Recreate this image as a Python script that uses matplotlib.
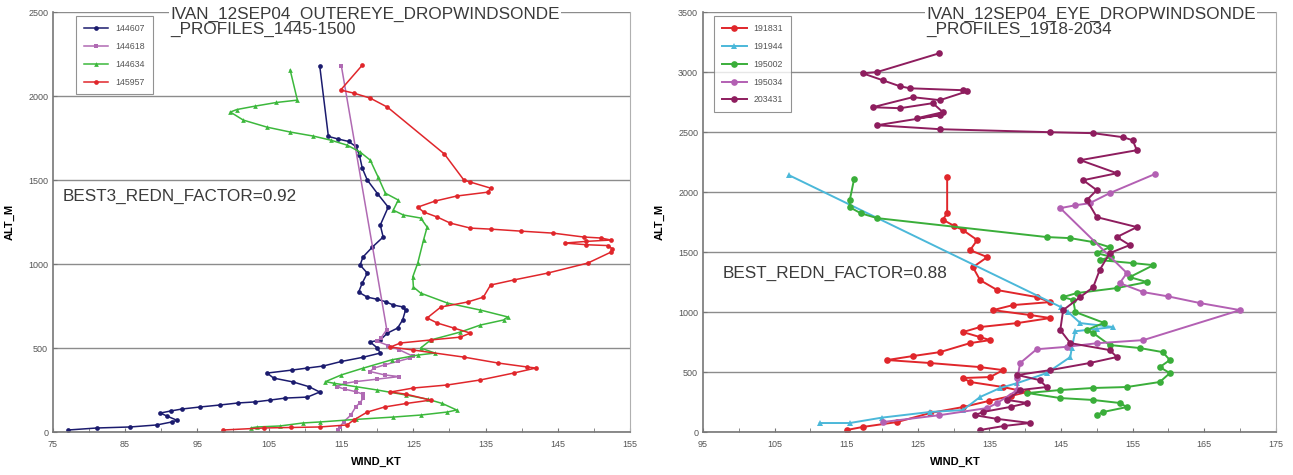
import matplotlib
matplotlib.use("Agg")
import matplotlib.pyplot as plt
from matplotlib.ticker import MultipleLocator

plt.rcParams["font.family"] = ["Liberation Sans", "DejaVu Sans"]

# ---------------------------------------------------------------------------
# Data: (wind kt, altitude m)
# ---------------------------------------------------------------------------
# left panel – outer eye, 1445-1500
S144607_WIND = [112.0, 113.2, 114.5, 116.0, 117.0, 117.5, 117.9, 118.6, 120.0, 121.5,
                120.4, 120.8, 119.3, 118.0, 117.6, 118.6, 117.9, 117.4, 118.6, 120.0,
                121.2, 122.2, 123.5, 123.9, 123.5, 122.8, 121.4, 120.4, 119.0, 120.0,
                120.4, 118.0, 115.0, 112.5, 110.3, 108.2, 104.7, 105.6, 108.3, 110.5,
                112.0, 110.3, 107.2, 105.1, 103.0, 100.7, 98.2, 95.4, 92.9, 91.3,
                89.9, 90.8, 92.2, 91.5, 89.4, 85.7, 81.1, 77.1]
S144607_ALT = [2180, 1760, 1745, 1730, 1700, 1650, 1571, 1500, 1420, 1339,
               1232, 1161, 1101, 1042, 994, 946, 887, 833, 803, 790,
               775, 756, 745, 726, 667, 619, 589, 548, 536, 500,
               470, 445, 420, 393, 381, 369, 351, 321, 298, 270,
               238, 208, 202, 190, 179, 173, 161, 149, 137, 125,
               113, 95, 70, 60, 42, 30, 24, 12]

S144618_WIND = [115.0, 121.3, 120.5, 120.0, 121.5, 123.0, 125.0, 124.5, 122.8, 121.0,
                119.5, 119.0, 121.0, 123.0, 120.0, 117.0, 115.5, 114.4, 115.5, 117.0,
                118.0, 118.0, 117.6, 117.0, 116.3, 115.3, 114.8, 114.6]
S144618_ALT = [2180, 610, 560, 540, 515, 490, 450, 440, 420, 400,
               380, 360, 340, 330, 315, 300, 290, 270, 255, 240,
               225, 200, 175, 150, 100, 60, 30, 12]

S144634_WIND = [107.9, 108.9, 106.0, 103.0, 100.5, 99.6, 101.4, 104.7, 107.9, 111.1,
                113.5, 115.8, 117.6, 119.0, 120.1, 121.1, 122.9, 122.2, 123.6, 126.0,
                126.9, 126.4, 125.6, 124.9, 125.0, 126.0, 129.7, 134.3, 138.1, 137.5,
                134.3, 131.5, 127.4, 126.0, 128.0, 125.6, 122.0, 118.0, 115.0, 112.8,
                114.0, 117.0, 120.0, 124.0, 127.0, 129.0, 131.0, 129.7, 126.0, 122.2,
                117.0, 112.1, 109.7, 106.5, 103.3, 102.5]
S144634_ALT = [2155, 1976, 1962, 1940, 1920, 1905, 1857, 1815, 1786, 1762,
               1738, 1708, 1667, 1619, 1518, 1422, 1381, 1321, 1292, 1274,
               1220, 1143, 1006, 923, 863, 827, 768, 726, 685, 667,
               637, 595, 548, 500, 470, 458, 430, 380, 340, 300,
               290, 270, 250, 220, 195, 170, 131, 119, 101, 89,
               75, 60, 54, 36, 30, 25]

S145957_WIND = [117.9, 114.9, 116.7, 119.0, 121.4, 129.3, 132.0, 132.9, 135.7, 135.3,
                131.0, 128.0, 125.6, 126.4, 128.3, 130.1, 132.9, 135.7, 139.9, 144.4,
                148.6, 151.0, 152.4, 149.0, 146.0, 149.0, 152.0, 152.6, 152.4, 149.2,
                143.6, 138.9, 135.7, 134.7, 132.5, 128.8, 126.9, 128.3, 130.6, 132.9,
                131.5, 127.4, 123.2, 121.8, 125.0, 132.0, 136.7, 140.8, 142.0, 138.9,
                134.3, 129.7, 125.0, 121.8, 124.0, 127.4, 124.0, 121.0, 118.6, 116.7,
                115.8, 112.0, 108.0, 104.2, 98.6]
S145957_ALT = [2184, 2036, 2018, 1988, 1934, 1655, 1500, 1488, 1452, 1428,
               1405, 1375, 1339, 1310, 1280, 1244, 1214, 1208, 1196, 1184,
               1161, 1155, 1143, 1135, 1125, 1115, 1110, 1090, 1071, 1006,
               946, 905, 875, 803, 774, 744, 679, 649, 619, 589,
               565, 548, 530, 506, 488, 446, 411, 387, 381, 351,
               310, 280, 262, 238, 225, 190, 170, 149, 119, 71,
               42, 30, 27, 24, 12]

# right panel – eye, 1918-2034
S191831_WIND = [129.1, 129.1, 128.5, 130.0, 131.3, 133.3, 132.3, 134.7, 132.7, 133.7,
                136.1, 141.6, 143.5, 138.3, 135.5, 140.7, 143.5, 138.9, 133.7, 131.3,
                133.7, 135.1, 132.3, 128.1, 124.3, 120.7, 126.7, 133.7, 136.9, 135.1,
                131.3, 132.3, 136.9, 140.2, 138.0, 135.0, 131.3, 126.7, 122.1, 117.3,
                115.1]
S191831_ALT = [2125, 1824, 1770, 1720, 1683, 1600, 1516, 1458, 1374, 1266,
               1183, 1125, 1083, 1058, 1016, 975, 950, 908, 875, 833,
               791, 766, 741, 666, 633, 600, 575, 541, 516, 458,
               450, 417, 375, 333, 300, 260, 208, 158, 83, 42,
               17]

S191944_WIND = [107.0, 145.0, 146.0, 147.7, 152.3, 150.0, 147.0, 146.5, 146.3, 143.0,
                138.9, 136.5, 133.7, 131.3, 126.7, 120.0, 115.5, 111.3]
S191944_ALT = [2141, 1041, 1000, 908, 875, 860, 840, 700, 625, 491,
               408, 367, 292, 183, 167, 120, 75, 75]

S195002_WIND = [116.1, 115.5, 115.5, 117.0, 119.3, 143.0, 146.3, 149.5, 151.8, 150.0,
                152.0, 150.4, 155.0, 157.9, 154.6, 157.0, 152.8, 147.2, 145.3, 146.7,
                147.0, 151.0, 148.6, 149.5, 151.8, 156.0, 159.2, 160.2, 158.8, 160.2,
                158.8, 154.2, 149.5, 144.9, 140.3, 144.9, 149.5, 153.2, 154.2, 150.9,
                150.0]
S195002_ALT = [2108, 1933, 1874, 1824, 1783, 1625, 1616, 1583, 1541, 1491,
               1460, 1433, 1408, 1391, 1291, 1250, 1200, 1158, 1125, 1100,
               1000, 910, 850, 825, 725, 700, 666, 600, 541, 491,
               417, 375, 367, 350, 325, 283, 267, 242, 208, 167,
               142]

S195034_WIND = [158.1, 151.8, 149.0, 147.0, 144.9, 154.2, 153.2, 156.5, 160.0, 164.4,
                170.0, 156.5, 150.0, 145.8, 141.6, 139.3, 138.9, 138.9, 136.1, 134.7,
                128.0, 120.1]
S195034_ALT = [2150, 1991, 1907, 1890, 1866, 1325, 1241, 1166, 1130, 1075,
               1016, 766, 740, 710, 690, 575, 450, 350, 242, 200,
               140, 83]

S203431_WIND = [128.0, 119.3, 117.3, 120.1, 122.5, 123.9, 131.3, 131.9, 128.1, 124.3,
                118.7, 122.5, 127.1, 128.5, 124.9, 128.1, 119.3, 128.1, 143.5, 149.5,
                153.7, 155.0, 155.6, 147.7, 152.8, 148.1, 150.0, 148.6, 150.0, 155.6,
                152.8, 154.6, 151.8, 150.4, 149.5, 147.7, 145.3, 144.9, 146.3, 151.8,
                152.8, 149.0, 143.5, 138.9, 142.0, 143.0, 139.3, 137.5, 140.3, 138.0,
                134.1, 133.0, 136.0, 140.7, 137.0, 133.7]
S203431_ALT = [3157, 3000, 2990, 2932, 2882, 2865, 2849, 2840, 2766, 2791,
               2707, 2699, 2741, 2666, 2616, 2641, 2557, 2524, 2499, 2491,
               2457, 2432, 2349, 2266, 2157, 2099, 2016, 1933, 1791, 1708,
               1625, 1558, 1491, 1350, 1208, 1125, 1016, 850, 741, 683,
               625, 575, 516, 475, 433, 375, 350, 267, 242, 210,
               167, 140, 110, 75, 50, 17]

LEFT_SERIES = [
    ("144607", S144607_WIND, S144607_ALT, "#1b1b6e", "o"),
    ("144618", S144618_WIND, S144618_ALT, "#b06ab3", "s"),
    ("144634", S144634_WIND, S144634_ALT, "#3cb83c", "^"),
    ("145957", S145957_WIND, S145957_ALT, "#e0262b", "o"),
]
RIGHT_SERIES = [
    ("191831", S191831_WIND, S191831_ALT, "#e0262b", "o"),
    ("191944", S191944_WIND, S191944_ALT, "#4bb8d9", "^"),
    ("195002", S195002_WIND, S195002_ALT, "#3aae3a", "o"),
    ("195034", S195034_WIND, S195034_ALT, "#b360b3", "o"),
    ("203431", S203431_WIND, S203431_ALT, "#8e1d5e", "o"),
]
LEFT_XTICKS = [75, 85, 95, 105, 115, 125, 135, 145, 155]
RIGHT_XTICKS = [95, 105, 115, 125, 135, 145, 155, 165, 175]

# ---------------------------------------------------------------------------
# Figure
# ---------------------------------------------------------------------------
fig = plt.figure(figsize=(12.93, 4.75), dpi=100)
ax1 = fig.add_axes([0.041, 0.0905, 0.446, 0.884])
ax2 = fig.add_axes([0.5437, 0.0905, 0.443, 0.884])

GRID = "#8c8c8c"
TXT = "#3a3a3a"


def style(ax, xticks, ylim):
    ax.set_xlim(xticks[0], xticks[-1])
    ax.set_ylim(*ylim)
    ax.set_xticks(xticks)
    ax.xaxis.set_minor_locator(MultipleLocator(5))
    ax.yaxis.set_major_locator(MultipleLocator(500))
    ax.grid(axis="y", color=GRID, lw=1.0)
    ax.set_axisbelow(True)
    for s in ["left", "bottom"]:
        ax.spines[s].set_color("#777777")
        ax.spines[s].set_linewidth(1.2)
    ax.spines["top"].set_visible(False)
    ax.spines["right"].set_color("#b0b0b0")
    ax.spines["right"].set_linewidth(0.8)
    ax.tick_params(which="both", direction="in", length=3, color="#777777",
                   labelsize=6.5, labelcolor="#555555")
    ax.tick_params(axis="x", pad=6)


def draw(ax, series, ms, lw):
    for name, w, a, col, mk in series:
        ax.plot(w, a, color=col, lw=lw, marker=mk, ms=ms,
                markeredgewidth=0, label=name)


draw(ax1, LEFT_SERIES, 3.4, 1.1)
draw(ax2, RIGHT_SERIES, 4.8, 1.4)
style(ax1, LEFT_XTICKS, (0, 2500))
style(ax2, RIGHT_XTICKS, (0, 3500))

for ax, anchor in [(ax1, (0.032, 1.0)), (ax2, (0.012, 1.0))]:
    lg = ax.legend(loc="upper left", bbox_to_anchor=anchor, fontsize=6.3,
                   frameon=True, fancybox=False, edgecolor="#777777",
                   handlelength=2.8, borderpad=0.9, labelspacing=1.0,
                   labelcolor="#555555")
    lg.get_frame().set_linewidth(0.8)

bbox = dict(facecolor="white", edgecolor="none", pad=1)
ax1.text(0.203, 1.012, "IVAN_12SEP04_OUTEREYE_DROPWINDSONDE\n_PROFILES_1445-1500",
         transform=ax1.transAxes, fontsize=12.3, color=TXT, ha="left", va="top",
         linespacing=1.0, bbox=bbox)
ax2.text(0.39, 1.012, "IVAN_12SEP04_EYE_DROPWINDSONDE\n_PROFILES_1918-2034",
         transform=ax2.transAxes, fontsize=12.3, color=TXT, ha="left", va="top",
         linespacing=1.0, bbox=bbox)

ax1.text(76.4, 1405, "BEST3_REDN_FACTOR=0.92", fontsize=12.3, color=TXT,
         ha="left", va="center")
ax2.text(97.8, 1325, "BEST_REDN_FACTOR=0.88", fontsize=12.3, color=TXT,
         ha="left", va="center")

ax1.set_ylabel("ALT_M", fontsize=8, fontweight="bold", labelpad=10)
ax2.set_ylabel("ALT_M", fontsize=8, fontweight="bold", labelpad=10)
ax1.set_xlabel("WIND_KT", fontsize=8, fontweight="bold", labelpad=6)
ax2.set_xlabel("WIND_KT", fontsize=8, fontweight="bold", labelpad=6)
ax1.xaxis.set_label_coords(0.56, -0.06)
ax2.xaxis.set_label_coords(0.44, -0.06)

plt.savefig("out.png", dpi=100)
